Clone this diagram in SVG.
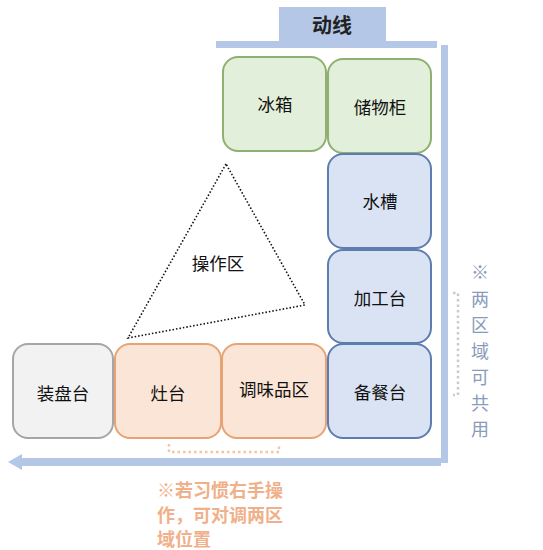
<svg xmlns="http://www.w3.org/2000/svg" width="543" height="550" viewBox="0 0 543 550">
<style>
  text { font-family: "Noto Sans CJK SC", "Liberation Sans", sans-serif; }
  .lbl { font-size: 17.5px; fill: #111; text-anchor: middle; dominant-baseline: central; }
  .green { fill: #e2efda; stroke: #8fb070; stroke-width: 2; }
  .blue { fill: #dae3f3; stroke: #5f7cb0; stroke-width: 2; }
  .orange { fill: #fbe5d6; stroke: #e6a476; stroke-width: 2; }
  .gray { fill: #f2f2f2; stroke: #a6a6a6; stroke-width: 2; }
  .bar { fill: #b4c7e7; }
</style>
<rect width="543" height="550" fill="#ffffff"/>

<g id="flow-line">
  <rect class="bar" x="279" y="7" width="107" height="34"/>
  <text x="332" y="24" font-size="20" font-weight="bold" fill="#222" text-anchor="middle" dominant-baseline="central">动线</text>
  <rect class="bar" x="216" y="41" width="221" height="7"/>
  <rect class="bar" x="441" y="45" width="7" height="418"/>
  <rect class="bar" x="20" y="458" width="421" height="8"/>
  <polygon class="bar" points="8,462 22,454 22,470"/>
</g>

<g id="connectors">
  <polygon points="226,164 128,338 305,305" fill="none" stroke="#111" stroke-width="1.6" stroke-dasharray="1.5 2"/>
  <path d="M169,444 V452 H279 V444" fill="none" stroke="#f4c4a4" stroke-width="2.5" stroke-dasharray="2.5 3"/>
  <path d="M453,293 H458 V395 H453" fill="none" stroke="#c8cbd0" stroke-width="2.5" stroke-dasharray="2.5 3"/>
</g>

<g id="node-fridge">
  <rect class="green" x="223" y="57" width="103" height="94" rx="15"/>
  <text class="lbl" x="275" y="103">冰箱</text>
</g>
<g id="node-storage">
  <rect class="green" x="328" y="59" width="103" height="94" rx="15"/>
  <text class="lbl" x="380" y="106">储物柜</text>
</g>
<g id="node-sink">
  <rect class="blue" x="328" y="154" width="103" height="94" rx="15"/>
  <text class="lbl" x="380" y="200">水槽</text>
</g>
<g id="node-prep">
  <rect class="blue" x="328" y="250" width="103" height="93" rx="15"/>
  <text class="lbl" x="380" y="297">加工台</text>
</g>
<g id="node-serve">
  <rect class="blue" x="328" y="344" width="103" height="94" rx="15"/>
  <text class="lbl" x="380" y="391">备餐台</text>
</g>
<g id="node-plating">
  <rect class="gray" x="13" y="344" width="100" height="94" rx="15"/>
  <text class="lbl" x="63" y="392">装盘台</text>
</g>
<g id="node-stove">
  <rect class="orange" x="115" y="344" width="106" height="94" rx="15"/>
  <text class="lbl" x="168" y="392">灶台</text>
</g>
<g id="node-seasoning">
  <rect class="orange" x="222" y="344" width="104" height="94" rx="15"/>
  <text class="lbl" x="274" y="388">调味品区</text>
</g>

<g id="node-operation">
  <text class="lbl" x="218" y="262" font-size="16">操作区</text>
</g>

<g id="note-right" fill="#8a9bbb" font-size="18" text-anchor="middle">
  <text x="480" y="279">※</text>
  <text x="480" y="306">两</text>
  <text x="480" y="332">区</text>
  <text x="480" y="358">域</text>
  <text x="480" y="384">可</text>
  <text x="480" y="410">共</text>
  <text x="480" y="436">用</text>
</g>

<g id="note-bottom" fill="#f0b08a" font-size="18" font-weight="bold">
  <text x="157" y="497">※若习惯右手操</text>
  <text x="157" y="522">作，可对调两区</text>
  <text x="157" y="546">域位置</text>
</g>
</svg>
